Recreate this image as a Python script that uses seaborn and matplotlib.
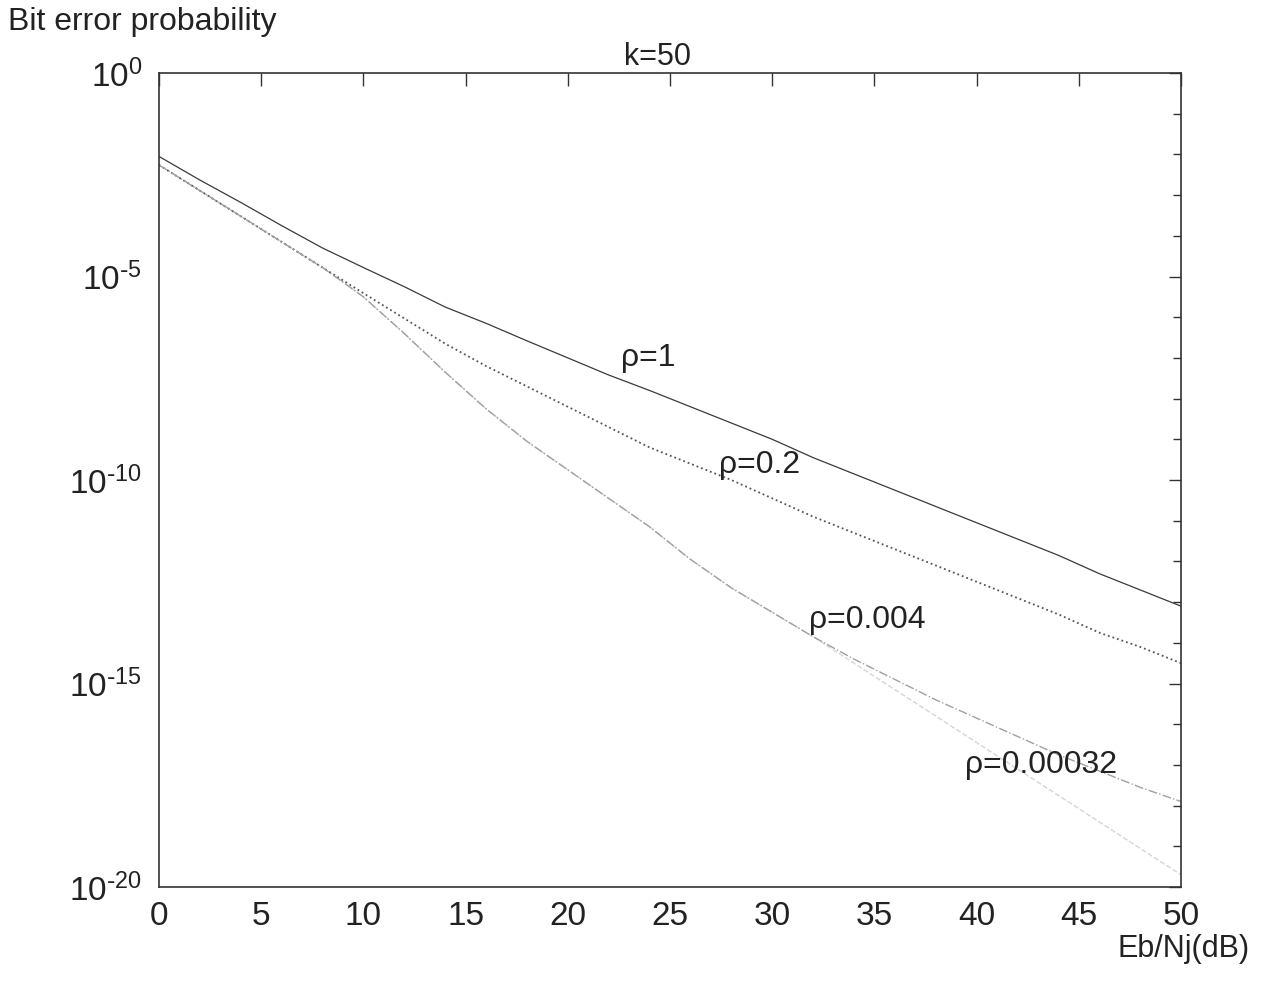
import numpy as np
import pandas as pd
import matplotlib
matplotlib.use("Agg")
import matplotlib.pyplot as plt
import seaborn as sns
from matplotlib.ticker import FixedLocator, NullFormatter

# ---------------- data (exponents of 10) ----------------
eb_nj_db = [0, 2, 4, 6, 8, 10, 12, 14, 16, 18, 20, 22, 24, 26, 28, 30,
            32, 34, 36, 38, 40, 42, 44, 46, 48, 50]

log10_pb_rho_1 = [-2.05, -2.63, -3.18, -3.75, -4.30, -4.78, -5.25, -5.75, -6.15,
                  -6.58, -7.00, -7.42, -7.80, -8.20, -8.60, -9.00, -9.45, -9.85,
                  -10.25, -10.65, -11.05, -11.45, -11.85, -12.30, -12.70, -13.10]

log10_pb_rho_0_2 = [-2.26, -2.89, -3.52, -4.15, -4.78, -5.41, -6.03, -6.65, -7.20,
                    -7.70, -8.20, -8.70, -9.20, -9.60, -10.00, -10.45, -10.90, -11.30,
                    -11.70, -12.10, -12.50, -12.90, -13.30, -13.75, -14.10, -14.50]

log10_pb_rho_0_004 = [-2.26, -2.89, -3.52, -4.15, -4.78, -5.50, -6.40, -7.35, -8.25,
                      -9.05, -9.75, -10.45, -11.15, -11.95, -12.65, -13.25, -13.85,
                      -14.40, -14.90, -15.40, -15.85, -16.30, -16.75, -17.15, -17.55, -17.90]

log10_pb_rho_0_00032 = [-2.26, -2.89, -3.52, -4.15, -4.78, -5.50, -6.40, -7.35, -8.25,
                        -9.05, -9.75, -10.45, -11.15, -11.95, -12.65, -13.25, -13.85,
                        -14.50, -15.15, -15.80, -16.45, -17.10, -17.75, -18.40, -19.05, -19.70]

series_labels = ["ρ=1", "ρ=0.2", "ρ=0.004", "ρ=0.00032"]
label_pos_x = [22.6, 27.4, 31.8, 39.45]
label_pos_log10y = [-7.0, -9.63, -13.44, -17.0]

x_ticks = [0, 5, 10, 15, 20, 25, 30, 35, 40, 45, 50]
y_tick_exps = [0, -5, -10, -15, -20]

# ---------------- style ----------------
sns.set_style("white")
plt.rcParams["font.family"] = ["Liberation Sans", "DejaVu Sans"]
plt.rcParams["text.color"] = "#222222"

fig = plt.figure(figsize=(12.69, 9.82), dpi=100)
ax = fig.add_axes([159 / 1269, 1 - 887 / 982, (1181 - 159) / 1269, (887 - 73) / 982])

df = pd.DataFrame({
    "x": eb_nj_db,
    "r1": 10.0 ** np.array(log10_pb_rho_1),
    "r02": 10.0 ** np.array(log10_pb_rho_0_2),
    "r0004": 10.0 ** np.array(log10_pb_rho_0_004),
    "r000032": 10.0 ** np.array(log10_pb_rho_0_00032),
})

sns.lineplot(data=df, x="x", y="r000032", ax=ax, color="#d6d6d6", linestyle="--", linewidth=1.0)
sns.lineplot(data=df, x="x", y="r02", ax=ax, color="#555555", linestyle=":", linewidth=1.3)
sns.lineplot(data=df, x="x", y="r0004", ax=ax, color="#a0a0a0", linestyle="-.", linewidth=1.0)
sns.lineplot(data=df, x="x", y="r1", ax=ax, color="#3a3a3a", linestyle="-", linewidth=0.9)

ax.set_yscale("log")
ax.set_xlim(0, 50)
ax.set_ylim(1e-20, 1)


def pow_label(e):
    if e < 0:
        return r"$\mathregular{10^{\text{-}%d}}$" % (-e)
    return r"$\mathregular{10^{%d}}$" % e


ax.set_xticks(x_ticks)
ax.set_xticklabels([str(t) for t in x_ticks], fontsize=24, color="#222222")
ax.set_yticks([10.0 ** e for e in y_tick_exps])
ax.set_yticklabels([pow_label(e) for e in y_tick_exps], fontsize=24, color="#222222")
ax.yaxis.set_minor_locator(FixedLocator([10.0 ** (-k) for k in range(1, 20) if k % 5]))
ax.yaxis.set_minor_formatter(NullFormatter())
ax.xaxis.set_minor_locator(FixedLocator([]))

ax.tick_params(which="both", direction="in", top=True, right=True, width=1.0, color="#333333")
ax.tick_params(which="major", length=9)
ax.tick_params(which="minor", length=6)
ax.tick_params(axis="x", which="major", pad=10)
ax.tick_params(axis="y", which="major", pad=12)

for sp in ax.spines.values():
    sp.set_visible(True)
    sp.set_color("#333333")
    sp.set_linewidth(1.2)

ax.set_xlabel("")
ax.set_ylabel("")
ax.set_title("k=50", fontsize=22, pad=6, x=0.488)

for lab, lx, ly in zip(series_labels, label_pos_x, label_pos_log10y):
    ax.text(lx, 10.0 ** ly, lab, fontsize=23, ha="left", va="center")

fig.text(8 / 1269, 1 - 22 / 982, "Bit error probability", fontsize=23, ha="left", va="center")
fig.text(1250 / 1269, 1 - 949 / 982, "Eb/Nj(dB)", fontsize=22, ha="right", va="center")

fig.savefig("out.png", dpi=100, facecolor="white")
